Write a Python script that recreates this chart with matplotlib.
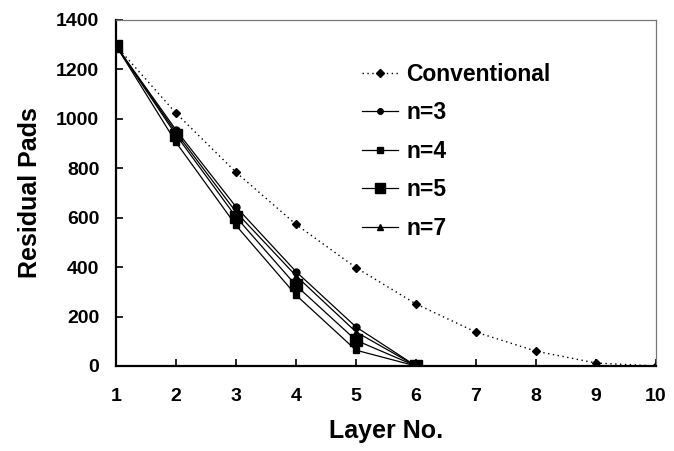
import matplotlib
matplotlib.use("Agg")
import matplotlib.pyplot as plt

plt.rcParams['font.family'] = ['Liberation Sans', 'DejaVu Sans']
plt.rcParams['font.weight'] = 'bold'

# residual pads per layer
layers = [1, 2, 3, 4, 5, 6, 7, 8, 9, 10]
conventional = [1296, 1023, 784, 573, 398, 251, 137, 60, 12, 0]

n_layers = [1, 2, 3, 4, 5, 6]
n3 = [1296, 955, 644, 382, 158, 0]
n4 = [1296, 905, 569, 287, 64, 0]
n5 = [1296, 935, 603, 326, 104, 0]
n7 = [1296, 945, 623, 365, 138, 0]

fig = plt.figure(figsize=(6.74, 4.51), dpi=100)
ax = fig.add_axes([116 / 674, 1 - 366 / 451, 540 / 674, 346 / 451])

ax.plot(layers, conventional, color='black', linestyle=(0, (1, 2.5)), linewidth=1.0,
        marker='D', markersize=4.5, label='Conventional')
ax.plot(n_layers, n3, color='black', linewidth=0.9, marker='o', markersize=5, label='n=3')
ax.plot(n_layers, n4, color='black', linewidth=0.9, marker='s', markersize=5, label='n=4')
ax.plot(n_layers, n5, color='black', linewidth=0.9, marker='s', markersize=8.5, label='n=5')
ax.plot(n_layers, n7, color='black', linewidth=0.9, marker='^', markersize=5, label='n=7')

ax.set_xlim(1, 10)
ax.set_ylim(0, 1400)
ax.set_xticks(layers)
ax.set_yticks(range(0, 1401, 200))

ax.tick_params(axis='both', direction='in', length=5, width=1.2, labelsize=14)
ax.tick_params(axis='x', pad=16)
ax.tick_params(axis='y', pad=12)

for side in ['left', 'bottom']:
    ax.spines[side].set_linewidth(1.6)
    ax.spines[side].set_color('black')
for side in ['top', 'right']:
    ax.spines[side].set_linewidth(0.9)
    ax.spines[side].set_color('#777777')

ax.set_xlabel('Layer No.', fontsize=18, fontweight='bold', labelpad=10)
ax.set_ylabel('Residual Pads', fontsize=18, fontweight='bold', labelpad=10)

ax.legend(loc='upper left', bbox_to_anchor=(0.455, 0.877), frameon=False,
          fontsize=16.5, handlelength=1.6, handletextpad=0.35,
          labelspacing=0.68, borderpad=0, borderaxespad=0, markerscale=0.8)

fig.savefig('out.png', dpi=100)
